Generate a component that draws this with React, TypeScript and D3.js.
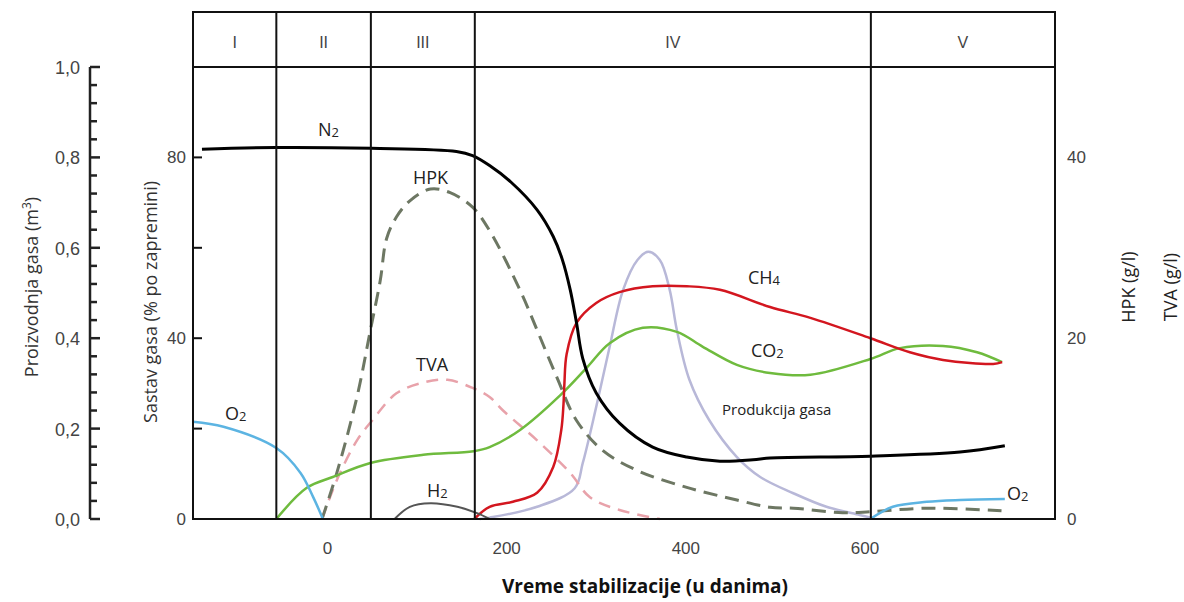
import React from 'react';
import * as d3 from 'd3';

// ---- data (days, value) ----
const phaseNames = ['I', 'II', 'III', 'IV', 'V'];
const phaseBounds = [-150, -57, 48.5, 164.5, 606.5, 812];
const xTicks = [0, 200, 400, 600];
const prodTicks = [0, 0.2, 0.4, 0.6, 0.8, 1.0];
const pctTicks = [0, 40, 80];
const glTicks = [0, 20, 40];

// % by volume
const n2: [number, number][] = [
  [-140, 81.8], [-57, 82.2], [49, 82.0], [144, 81.3], [162, 80.4], [181, 78.2],
  [205, 74.5], [234, 68.4], [252, 62.5], [262, 57.5], [271, 50.7], [278, 43.4], [285, 35.5],
  [300, 27.9], [326, 21.2], [363, 15.9], [401, 13.7], [438, 12.8], [475, 13.1],
  [494, 13.5], [606, 13.9], [706, 14.8], [756, 16.2],
];
const o2Start: [number, number][] = [
  [-150, 21.5], [-116, 20.4], [-57, 15.7], [-30, 10.2], [-16, 4.9], [-5, 0],
];
const o2End: [number, number][] = [
  [606, 0], [631, 2.7], [669, 3.8], [706, 4.2], [756, 4.4],
];
const co2: [number, number][] = [
  [-57, 0], [-23, 6.9], [6, 9.3], [48, 12.4], [107, 14.2], [163, 15.0], [181, 15.9],
  [215, 19.7], [260, 27.4], [290, 33.6], [315, 38.9], [352, 42.3], [390, 41.4],
  [419, 38.1], [457, 34.1], [494, 32.3], [539, 31.9], [606, 35.4], [639, 37.8],
  [687, 38.3], [725, 36.9], [753, 34.7],
];
const ch4: [number, number][] = [
  [164, 0], [181, 2.7], [207, 3.8], [234, 5.8], [252, 11.5], [261, 19.7], [263.5, 25.5],
  [264.5, 30], [267, 36.5], [278, 43.4], [300, 47.8], [326, 50.2], [363, 51.5],
  [401, 51.5], [438, 50.7], [494, 46.9], [539, 44.5], [606, 40.0], [650, 36.9],
  [687, 35.2], [743, 34.3], [753, 34.7],
];
const h2: [number, number][] = [
  [75, 0], [92, 2.7], [115, 3.5], [145, 2.7], [167, 1.3], [181, 0],
];
// m3
const production: [number, number][] = [
  [170, 0], [181, 0.003], [234, 0.027], [276, 0.068], [285, 0.124], [300, 0.248],
  [315, 0.381], [330, 0.507], [346, 0.573], [358, 0.591], [371, 0.573], [382, 0.507],
  [390, 0.418], [404, 0.308], [426, 0.219], [457, 0.137], [483, 0.093], [520, 0.057],
  [557, 0.027], [594, 0.009], [609, 0.002],
];
// g/l
const hpk: [number, number][] = [
  [-6, 0], [10.5, 5.1], [33, 13.5], [48, 20.9], [59, 26.4], [66, 31.0], [77, 33.4],
  [92, 35.2], [115, 36.5], [137, 36.1], [162, 34.5], [181, 31.9], [215, 25.3], [234, 20.9],
  [256, 15.7], [278, 10.9], [307, 7.6], [345, 5.4], [401, 3.5], [457, 2.1], [494, 1.3],
  [520, 1.2], [575, 0.7], [606, 0.8], [669, 1.2], [753, 0.9],
];
const tva: [number, number][] = [
  [-6, 0], [10.5, 4.3], [33, 8.7], [50, 10.9], [77, 13.9], [107, 15.1], [134, 15.4],
  [162, 14.5], [181, 13.5], [196, 12.0], [234, 8.7], [271, 5.1], [293, 2.4],
  [326, 1.0], [371, 0],
];

const W = 1184;
const H = 602;
const L = 193, R = 1055, T = 12, BAND = 67, B = 519;

export default function App() {
  const x = d3.scaleLinear().domain([-150, 812]).range([L, R]);
  const yPct = d3.scaleLinear().domain([0, 100]).range([B, BAND]);
  const yProd = d3.scaleLinear().domain([0, 1]).range([B, BAND]);
  const yGl = d3.scaleLinear().domain([0, 50]).range([B, BAND]);

  const mk = (ys: d3.ScaleLinear<number, number>) =>
    d3.line<[number, number]>()
      .x((d) => x(d[0]))
      .y((d) => ys(d[1]))
      .curve(d3.curveCatmullRom.alpha(0.5));

  const linePct = mk(yPct);
  const lineProd = mk(yProd);
  const lineGl = mk(yGl);

  const tickFont = "'Liberation Sans', Arial, sans-serif";
  const labFont = "'Open Sans', 'Noto Sans', sans-serif";

  const minorProd = d3.range(0, 1.0001, 0.04);
  const innerTicks = [20, 40, 60, 80];

  const sub = (main: string, s: string, px: number, py: number, fs = 18) => (
    <text x={px} y={py} fontFamily={labFont} fontSize={fs} fill="#222">
      {main}
      <tspan fontSize={fs * 0.72} dy={1}>{s}</tspan>
    </text>
  );

  return (
    <svg width={W} height={H} style={{ position: 'absolute', left: 0, top: 0, background: '#fff' }}>
      {/* curves */}
      <g fill="none" strokeLinejoin="round" strokeLinecap="butt">
        <path d={lineProd(production) || ''} stroke="#b8b8d8" strokeWidth={2.5} />
        <path d={lineGl(tva) || ''} stroke="#e8a2aa" strokeWidth={2.5} strokeDasharray="12 8" />
        <path d={lineGl(hpk) || ''} stroke="#6d7763" strokeWidth={3} strokeDasharray="14 8" />
        <path d={linePct(co2) || ''} stroke="#6fbb3e" strokeWidth={2.5} />
        <path d={linePct(ch4) || ''} stroke="#d3161f" strokeWidth={2.5} />
        <path d={linePct(o2Start) || ''} stroke="#5cb4e2" strokeWidth={2.5} />
        <path d={linePct(o2End) || ''} stroke="#5cb4e2" strokeWidth={2.5} />
        <path d={linePct(h2) || ''} stroke="#555" strokeWidth={2} />
        <path d={linePct(n2) || ''} stroke="#000" strokeWidth={3} />
      </g>

      {/* frame */}
      <g stroke="#111" strokeWidth={2} fill="none">
        <rect x={L} y={T} width={R - L} height={B - T} />
        <line x1={L} x2={R} y1={BAND} y2={BAND} />
        {phaseBounds.slice(1, -1).map((d) => (
          <line key={d} x1={x(d)} x2={x(d)} y1={T} y2={B} />
        ))}
      </g>
      {phaseNames.map((n, i) => (
        <text key={n} x={(x(phaseBounds[i]) + x(phaseBounds[i + 1])) / 2} y={48}
          textAnchor="middle" fontFamily={tickFont} fontSize={16} fill="#444">{n}</text>
      ))}

      {/* inner left ticks */}
      <g stroke="#111" strokeWidth={2}>
        {innerTicks.map((t) => (
          <line key={t} x1={L} x2={L + 9} y1={yPct(t)} y2={yPct(t)} />
        ))}
      </g>
      {pctTicks.map((t) => (
        <text key={t} x={L - 7} y={yPct(t) + 6} textAnchor="end" fontFamily={tickFont}
          fontSize={17} fill="#444">{t}</text>
      ))}
      {/* right labels */}
      {glTicks.map((t) => (
        <text key={t} x={R + 12} y={yGl(t) + 6} textAnchor="start" fontFamily={tickFont}
          fontSize={17} fill="#444">{t}</text>
      ))}

      {/* outer left axis */}
      <g stroke="#222" strokeWidth={2.5}>
        <line x1={90} x2={90} y1={yProd(1)} y2={yProd(0)} />
        {minorProd.map((t, i) => (
          <line key={i} x1={90} x2={i % 5 === 0 ? 100 : 97} y1={yProd(t)} y2={yProd(t)} />
        ))}
      </g>
      {prodTicks.map((t) => (
        <text key={t} x={80} y={yProd(t) + 7} textAnchor="end" fontFamily={tickFont}
          fontSize={18} fill="#444">{t.toFixed(1).replace('.', ',')}</text>
      ))}

      {/* x tick labels */}
      {xTicks.map((t) => (
        <text key={t} x={x(t)} y={554} textAnchor="middle" fontFamily={tickFont}
          fontSize={17} fill="#444">{t}</text>
      ))}

      {/* axis titles */}
      <text x={645} y={593} textAnchor="middle" fontFamily={labFont} fontWeight="bold"
        fontSize={19} fill="#111">Vreme stabilizacije (u danima)</text>
      <text transform="translate(38,287) rotate(-90)" textAnchor="middle" fontFamily={labFont}
        fontSize={18} fill="#333">
        Proizvodnja gasa (m<tspan fontSize={12} dy={-7}>3</tspan><tspan dy={7}>)</tspan>
      </text>
      <text transform="translate(157,302) rotate(-90)" textAnchor="middle" fontFamily={labFont}
        fontSize={18} fill="#333">Sastav gasa (% po zapremini)</text>
      <text transform="translate(1135,287) rotate(-90)" textAnchor="middle" fontFamily={labFont}
        fontSize={18} fill="#222">HPK (g/l)</text>
      <text transform="translate(1177,287) rotate(-90)" textAnchor="middle" fontFamily={labFont}
        fontSize={18} fill="#222">TVA (g/l)</text>

      {/* curve labels */}
      {sub('N', '2', 318, 136)}
      <text x={413} y={184} fontFamily={labFont} fontSize={18} fill="#222">HPK</text>
      <text x={416} y={371} fontFamily={labFont} fontSize={18} fill="#222">TVA</text>
      {sub('O', '2', 225, 420)}
      {sub('H', '2', 427, 497)}
      {sub('CH', '4', 748, 284)}
      {sub('CO', '2', 751, 357)}
      <text x={722} y={415} fontFamily={labFont} fontSize={15} fill="#222">Produkcija gasa</text>
      {sub('O', '2', 1007, 500)}
    </svg>
  );
}
